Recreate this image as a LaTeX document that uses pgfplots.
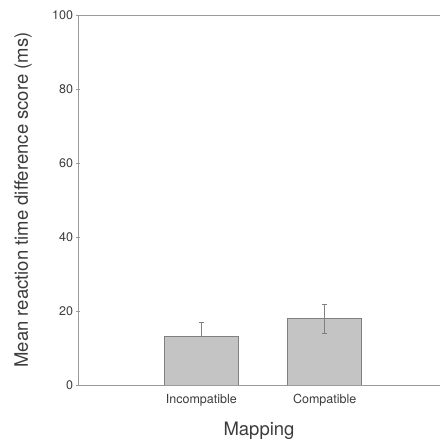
\documentclass[border=0pt]{standalone}
\usepackage{pgfplots}
\pgfplotsset{compat=1.18}
\usepackage{fontspec}
\setmainfont{TeX Gyre Heros}

\definecolor{barfill}{HTML}{C4C4C4}
\definecolor{baredge}{HTML}{808080}
\definecolor{axisgray}{HTML}{9A9A9A}
\definecolor{txt}{HTML}{3C3C3C}

\begin{document}
\begin{tikzpicture}
% invisible frame fixing the page extent around the 362pt x 370pt plot area
\path (-78pt,-61pt) rectangle (361.4pt,385pt);
\begin{axis}[
  at={(0,0)}, anchor=south west,
  scale only axis, width=362pt, height=370pt,
  xmin=0, xmax=2.935, ymin=0, ymax=100,
  axis x line*=box, axis y line*=left,
  axis line style={axisgray, line width=0.9pt, -},
  xtick={1,2}, xticklabels={Incompatible, Compatible},
  x tick style={draw=none},
  ytick={0,20,40,60,80,100},
  y tick style={axisgray, line width=0.6pt},
  tick align=center, major tick length=3pt,
  tick label style={font=\fontsize{12.5}{14}\selectfont, text=txt},
  x tick label style={font=\fontsize{12.5}{14}\selectfont, yshift=-4pt},
  /pgf/number format/assume math mode=true,
  xlabel={Mapping}, ylabel={Mean reaction time difference score (ms)},
  xlabel style={font=\fontsize{18.5}{20}\selectfont, text=txt,
    at={(axis description cs:0.5,-0.124)}, anchor=center},
  ylabel style={font=\fontsize{18.5}{20}\selectfont, text=txt,
    at={(axis description cs:-0.152,0.5)}, anchor=center},
]
\addplot[ybar, bar width=0.6, bar shift=0pt, fill=barfill, draw=baredge, line width=0.8pt,
  error bars/.cd, y dir=plus, y explicit,
  error bar style={baredge, line width=0.8pt}, error mark options={rotate=90, mark size=2.5pt, baredge}]
  coordinates {(1,13.2) +- (0,3.8)};
\addplot[ybar, bar width=0.6, bar shift=0pt, fill=barfill, draw=baredge, line width=0.8pt,
  error bars/.cd, y dir=both, y explicit,
  error bar style={baredge, line width=0.8pt}, error mark options={rotate=90, mark size=2.5pt, baredge}]
  coordinates {(2,18.0) +- (0,3.9)};
\end{axis}
\end{tikzpicture}
\end{document}
